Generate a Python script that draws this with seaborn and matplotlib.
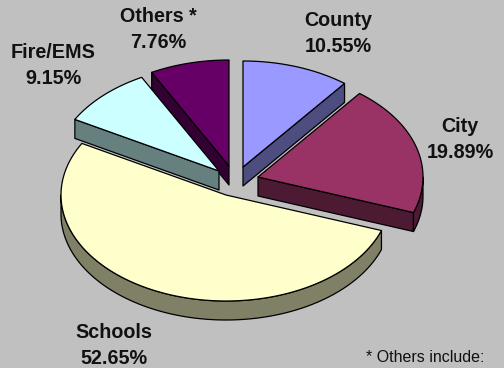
import numpy as np
import matplotlib
matplotlib.use("Agg")
import matplotlib.pyplot as plt
import seaborn as sns

# Share of the total, clockwise from twelve o'clock
categories = ["County", "City", "Schools", "Fire/EMS", "Others *"]
shares = [10.55, 19.89, 52.65, 9.15, 7.76]
top_colors = ["#9999FF", "#993366", "#FFFFCC", "#CCFFFF", "#660066"]

# Layout of the exploded disc, in pixels
centers = {"County": (243, 167), "City": (258, 177), "Schools": (226, 195),
           "Fire/EMS": (219, 171), "Others *": (229, 166)}
RX, RY, DEPTH = 165, 106, 19
label_pos = {"County": (338, 34), "City": (460, 139), "Schools": (114, 346),
             "Fire/EMS": (53, 66), "Others *": (158, 30)}
draw_order = ["Others *", "County", "Fire/EMS", "City", "Schools"]

sns.set_theme(style="white", rc={"figure.facecolor": "#C0C0C0", "axes.facecolor": "#C0C0C0"})
plt.rcParams["font.family"] = ["Liberation Sans", "DejaVu Sans"]

fig = plt.figure(figsize=(5.04, 3.68), dpi=100)
ax = fig.add_axes([0, 0, 1, 1])
ax.set_xlim(0, 504)
ax.set_ylim(368, 0)
ax.axis("off")

edges = np.concatenate([[0], np.cumsum(shares)]) * 360 / sum(shares)
spans = {c: (edges[i], edges[i + 1]) for i, c in enumerate(categories)}
colors = dict(zip(categories, sns.color_palette(top_colors)))


def rim(center, a0, a1, n=120):
    t = np.radians(np.linspace(a0, a1, n))
    return center[0] + RX * np.sin(t), center[1] - RY * np.cos(t)


def cut_wall(center, angle, color):
    x, y = rim(center, angle, angle, 1)
    px = [center[0], x[0], x[0], center[0]]
    py = [center[1], y[0], y[0] + DEPTH, center[1] + DEPTH]
    ax.fill(px, py, facecolor=color, edgecolor="black", linewidth=0.9, joinstyle="round")


for name in draw_order:
    a0, a1 = spans[name]
    c = centers[name]
    shade = tuple(v * 0.5 for v in colors[name])

    # Cut faces that turn towards the viewer
    if a1 < 180:
        cut_wall(c, a1, shade)
    if a0 > 180:
        cut_wall(c, a0, shade)

    # Outer wall on the near half of the rim
    w0, w1 = max(a0, 90), min(a1, 270)
    if w1 > w0:
        x, y = rim(c, w0, w1)
        ax.fill(np.r_[x, x[::-1]], np.r_[y, y[::-1] + DEPTH],
                facecolor=shade, edgecolor="black", linewidth=0.9, joinstyle="round")

    # Top face
    x, y = rim(c, a0, a1)
    ax.fill(np.r_[c[0], x], np.r_[c[1], y], facecolor=colors[name],
            edgecolor="black", linewidth=0.9, joinstyle="round")

for name, share in zip(categories, shares):
    lx, ly = label_pos[name]
    ax.text(lx, ly - 13, name, ha="center", va="center", fontsize=14.2,
            fontweight="bold", color="#111111")
    ax.text(lx, ly + 13, f"{share:.2f}%", ha="center", va="center", fontsize=14.2,
            fontweight="bold", color="#111111")

ax.text(425, 357, "* Others include:", ha="center", va="center", fontsize=11.5, color="#111111")

fig.savefig("out.png", dpi=100, facecolor=fig.get_facecolor())
